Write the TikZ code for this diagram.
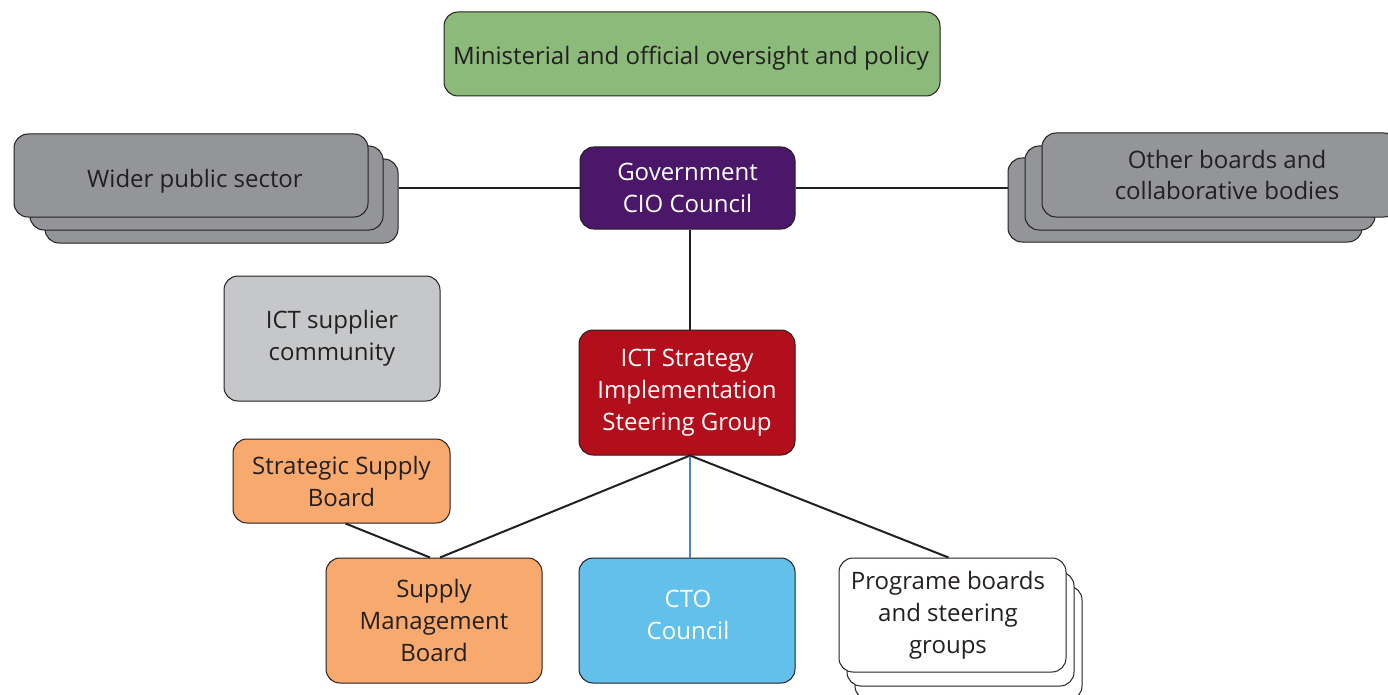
\documentclass[tikz,border=0pt]{standalone}
\usepackage{fontspec}
\setmainfont{Open Sans}
\usepackage{xcolor}
\definecolor{oversight}{HTML}{8BBA7A}
\definecolor{ciopurple}{HTML}{4B1768}
\definecolor{sectorgrey}{HTML}{939598}
\definecolor{suppliergrey}{HTML}{C6C7C9}
\definecolor{isgred}{HTML}{B30E1B}
\definecolor{supplyorange}{HTML}{F7A96E}
\definecolor{ctoblue}{HTML}{62C0EB}
\definecolor{inkgrey}{HTML}{231F20}
\definecolor{linkblue}{HTML}{4A86C8}

\begin{document}
\begin{tikzpicture}[x=1pt, y=-1pt,
    every node/.style={font=\fontsize{24}{32}\selectfont, text=inkgrey, align=center},
    board/.style={draw=inkgrey, line width=1pt, rounded corners=14pt, inner sep=0pt},
    link/.style={draw=inkgrey, line width=2pt}]

                \useasboundingbox (0,0) rectangle (1388,695);

                % top of the structure
                \node [board, fill=oversight, minimum width=496, minimum height=84] (policy) at (692,54) {};
                \node (policytext) at (691,58) {Ministerial and official oversight and policy};
                \node [board, fill=ciopurple, text=white, minimum width=215, minimum height=82] (cio) at (687.5,188) {Government\\CIO Council};

                % stacked groups either side
                \node [board, fill=sectorgrey, minimum width=353, minimum height=84] (wps3) at (221.5,201) {};
                \node [board, fill=sectorgrey, minimum width=353, minimum height=84] (wps2) at (206.5,188) {};
                \node [board, fill=sectorgrey, minimum width=354, minimum height=83] (wps) at (191,175.5) {};
                \node (wpstext) at (195,181) {Wider public sector};

                \node [board, fill=sectorgrey, minimum width=354, minimum height=84] (oth3) at (1185,200) {};
                \node [board, fill=sectorgrey, minimum width=350, minimum height=84] (oth2) at (1200,188) {};
                \node [board, fill=sectorgrey, minimum width=356, minimum height=84] (oth) at (1220,175) {};
                \node (othtext) at (1227,175) {Other boards and\\collaborative bodies};

                \draw [link] (wps3.east |- cio.west) -- (cio.west);
                \draw [link] (cio.east) -- (cio.east -| oth3.west);

                % steering group
                \node [board, fill=suppliergrey, minimum width=216, minimum height=125] (supplier) at (332,338.5) {ICT supplier\\community};
                \node [board, fill=isgred, text=white, minimum width=216, minimum height=125] (isg) at (687,392.5) {ICT Strategy\\Implementation\\Steering Group};
                \coordinate (hub) at ([xshift=3pt]isg.south);

                \draw [link] (cio.south -| hub) -- (isg.north -| hub);

                % boards below
                \node [board, fill=supplyorange, minimum width=217, minimum height=84] (ssb) at (341.5,481) {Strategic Supply\\Board};
                \node [board, fill=supplyorange, minimum width=216, minimum height=125] (smb) at (434,620.5) {Supply\\Management\\Board};
                \node [board, fill=ctoblue, minimum width=216, minimum height=125] (cto) at (687,620.5) {};
                \node [text=white] (ctotext) at (688,615) {CTO\\Council};

                \node [board, fill=white, minimum width=227, minimum height=114] (prog3) at (968.5,643) {};
                \node [board, fill=white, minimum width=227, minimum height=114] (prog2) at (960.5,629) {};
                \node [board, fill=white, minimum width=227, minimum height=114] (prog) at (952.5,615) {};
                \node (progtext) at (948,615) {Programe boards\\and steering\\groups};

                \draw [link] (hub) -- ([xshift=6pt]smb.north);
                \draw [link] ([xshift=4pt]ssb.south) -- ([xshift=-4pt]smb.north);
                \draw [draw=linkblue, line width=2pt] (hub) -- (cto.north -| hub);
                \draw [link] (hub) -- ([xshift=-4pt]prog.north);

            \end{tikzpicture}
\end{document}
